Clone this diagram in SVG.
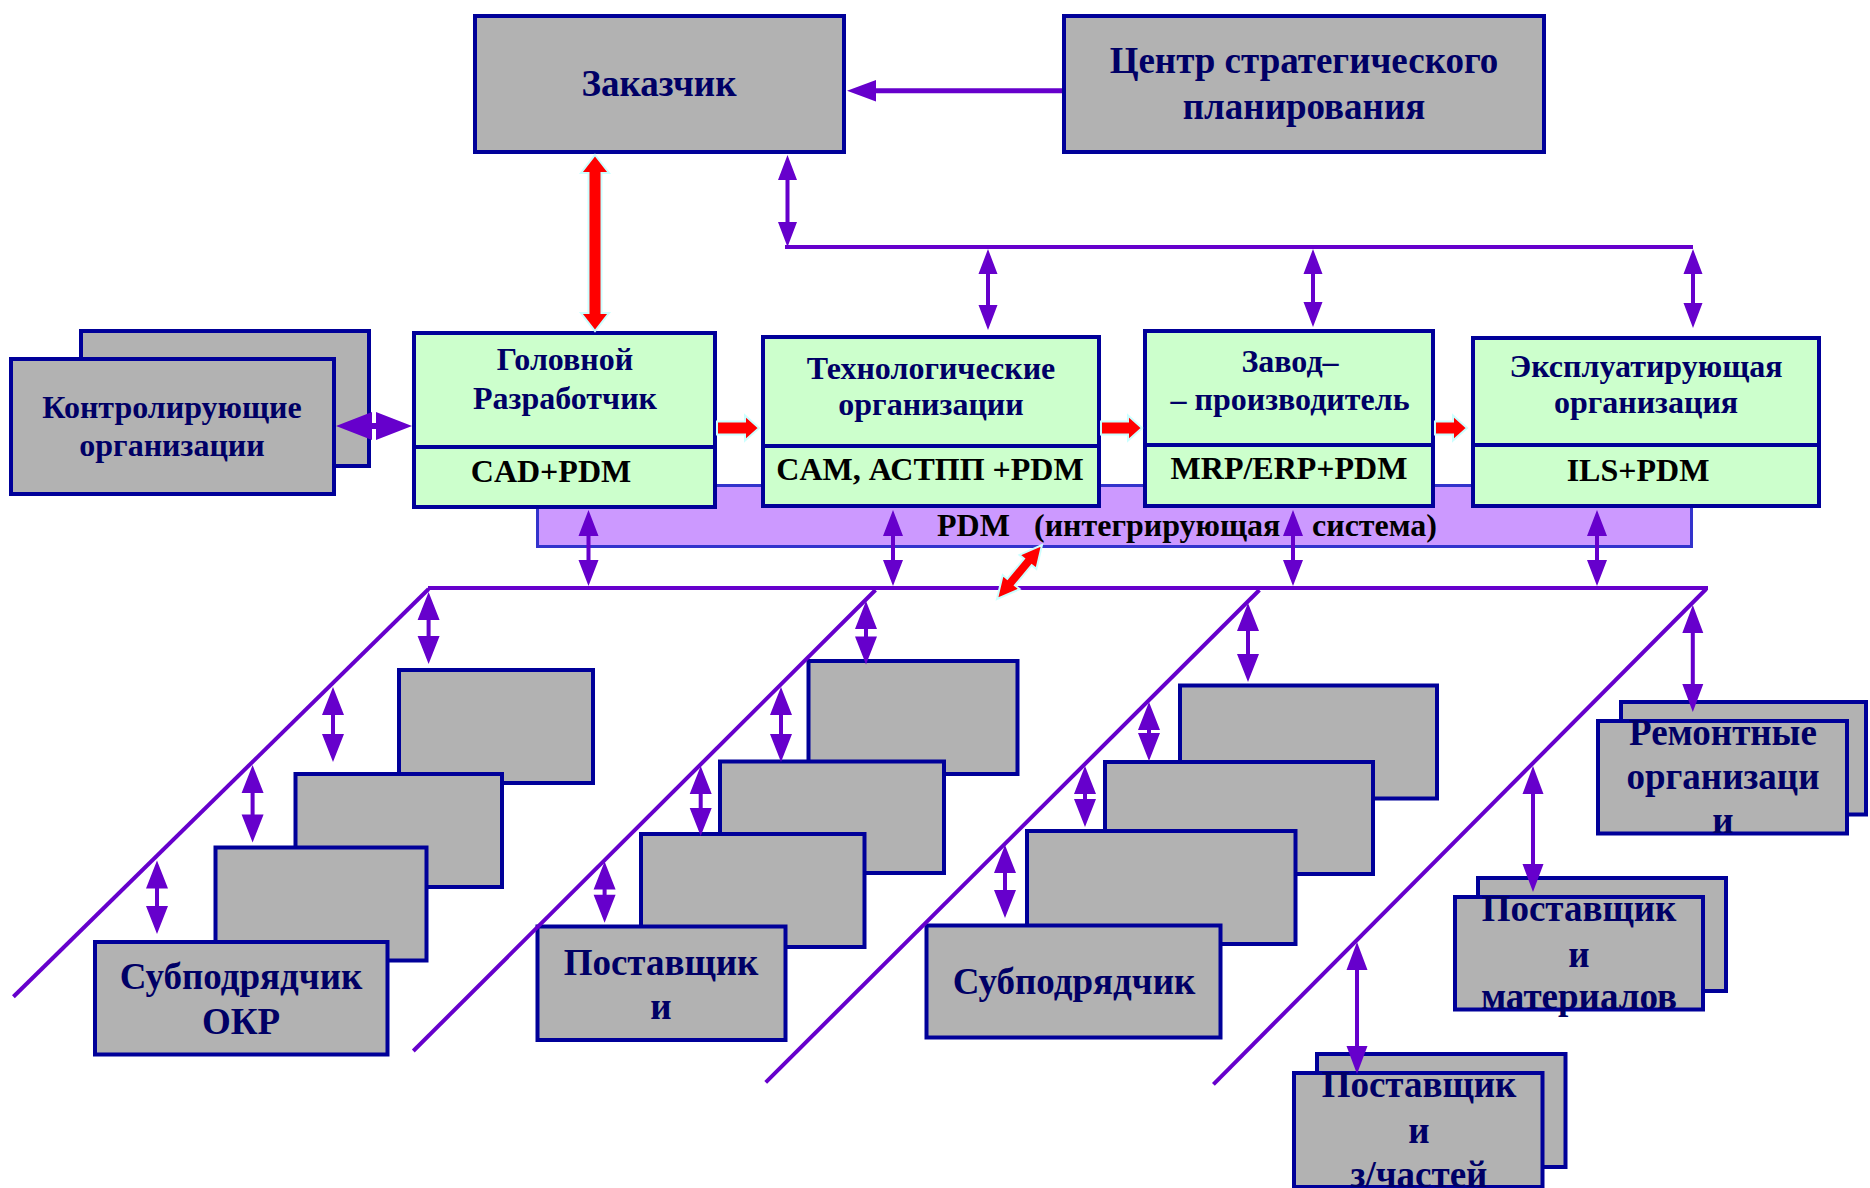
<svg xmlns="http://www.w3.org/2000/svg" width="1870" height="1188" viewBox="0 0 1870 1188">
  <style>
    .box { fill: #b2b2b2; stroke: #000099; stroke-width: 4; }
    .grn { fill: #ccffcc; stroke: #000099; stroke-width: 4; }
    .div { stroke: #000099; stroke-width: 4; }
    .band { fill: #cc99ff; stroke: #3333cc; stroke-width: 3; }
    text { font-family: "Liberation Serif", "Times New Roman", serif; font-weight: bold; }
    .t { fill: #000066; text-anchor: middle; }
    .big { font-size: 37px; }
    .mid { font-size: 32px; }
    .s { fill: #000000; text-anchor: middle; font-size: 32px; }
    .bt { fill: #000000; font-size: 32px; }
    .ln { stroke: #6600cc; stroke-width: 4; fill: none; }
    .pa { fill: #6600cc; }
    .ra { fill: #ff0000; stroke: #ccffff; stroke-width: 2; }
  </style>

  <!-- top level -->
  <g id="zakazchik">
    <rect class="box" x="475" y="16" width="369" height="136"/>
    <text class="t big" x="659" y="96">Заказчик</text>
  </g>
  <g id="centr">
    <rect class="box" x="1064" y="16" width="480" height="136"/>
    <text class="t big" x="1304" y="73">Центр стратегического</text>
    <text class="t big" x="1304" y="119">планирования</text>
  </g>

  <!-- controlling organisations (stacked) -->
  <g id="kontrol">
    <rect class="box" x="81" y="331" width="288" height="135"/>
    <rect class="box" x="11" y="359" width="323" height="135"/>
    <text class="t mid" x="172" y="418">Контролирующие</text>
    <text class="t mid" x="172" y="456">организации</text>
  </g>

  <!-- PDM integration band -->
  <g id="pdm">
    <rect class="band" x="537.5" y="485.5" width="1154" height="61"/>
    <text class="bt" x="937" y="536">PDM</text>
    <text class="bt" x="1034" y="536">(интегрирующая</text>
    <text class="bt" x="1312" y="536">система)</text>
  </g>

  <!-- main chain -->
  <g id="golovnoy">
    <rect class="grn" x="414" y="333" width="301" height="174"/>
    <line class="div" x1="414" y1="447" x2="715" y2="447"/>
    <text class="t mid" x="565" y="370">Головной</text>
    <text class="t mid" x="565" y="409">Разработчик</text>
    <text class="s" x="551" y="482">CAD+PDM</text>
  </g>
  <g id="tehnolog">
    <rect class="grn" x="763" y="337" width="336" height="169"/>
    <line class="div" x1="763" y1="446" x2="1099" y2="446"/>
    <text class="t mid" x="931" y="379">Технологические</text>
    <text class="t mid" x="931" y="415">организации</text>
    <text class="s" x="930" y="480">CAM, АСТПП +PDM</text>
  </g>
  <g id="zavod">
    <rect class="grn" x="1145" y="331" width="288" height="175"/>
    <line class="div" x1="1145" y1="445" x2="1433" y2="445"/>
    <text class="t mid" x="1290" y="372">Завод–</text>
    <text class="t mid" x="1290" y="410">– производитель</text>
    <text class="s" x="1289" y="479">MRP/ERP+PDM</text>
  </g>
  <g id="ekspl">
    <rect class="grn" x="1473" y="338" width="346" height="168"/>
    <line class="div" x1="1473" y1="445" x2="1819" y2="445"/>
    <text class="t mid" x="1646" y="377">Эксплуатирующая</text>
    <text class="t mid" x="1646" y="413">организация</text>
    <text class="s" x="1638" y="481">ILS+PDM</text>
  </g>

  <!-- lower tiers -->
  <g id="subpodr-okr">
    <rect class="box" x="399" y="670" width="194" height="113"/>
    <rect class="box" x="295.5" y="774" width="206.5" height="113"/>
    <rect class="box" x="215.5" y="847.5" width="211" height="113"/>
    <rect class="box" x="95" y="942" width="292.5" height="112.5"/>
    <text class="t big" x="241" y="989">Субподрядчик</text>
    <text class="t big" x="241" y="1034">ОКР</text>
  </g>
  <g id="postavshiki">
    <rect class="box" x="808.5" y="661" width="209" height="113"/>
    <rect class="box" x="720" y="761.5" width="224" height="111.5"/>
    <rect class="box" x="641" y="834" width="223.5" height="113"/>
    <rect class="box" x="537.5" y="926.5" width="248" height="113.5"/>
    <text class="t big" x="661" y="974.5">Поставщик</text>
    <text class="t big" x="661" y="1018.5">и</text>
  </g>
  <g id="subpodr">
    <rect class="box" x="1180" y="685.5" width="257" height="113"/>
    <rect class="box" x="1105" y="762" width="268" height="112"/>
    <rect class="box" x="1027" y="831" width="268.5" height="113"/>
    <rect class="box" x="926.5" y="925.5" width="294" height="112"/>
    <text class="t big" x="1074" y="994">Субподрядчик</text>
  </g>
  <g id="remont">
    <rect class="box" x="1621" y="702" width="245" height="112.5"/>
    <rect class="box" x="1598" y="721" width="249" height="112.5"/>
    <text class="t big" x="1723" y="745">Ремонтные</text>
    <text class="t big" x="1723" y="789">организаци</text>
    <text class="t big" x="1723" y="833">и</text>
  </g>
  <g id="postav-mater">
    <rect class="box" x="1478" y="878" width="248" height="113"/>
    <rect class="box" x="1455" y="897" width="248" height="112.5"/>
    <text class="t big" x="1579" y="921">Поставщик</text>
    <text class="t big" x="1579" y="967">и</text>
    <text class="t big" x="1579" y="1009">материалов</text>
  </g>
  <g id="postav-zch">
    <rect class="box" x="1317" y="1054" width="248.5" height="113"/>
    <rect class="box" x="1294" y="1073" width="248.5" height="114"/>
    <text class="t big" x="1419" y="1097">Поставщик</text>
    <text class="t big" x="1419" y="1143">и</text>
    <text class="t big" x="1419" y="1187">з/частей</text>
  </g>

  <!-- connectors -->
  <g id="connectors">
    <!-- buses and diagonals -->
    <line class="ln" x1="785" y1="247" x2="1693" y2="247"/>
    <line class="ln" x1="428" y1="588" x2="1708" y2="588"/>
    <line class="ln" x1="428.6" y1="589" x2="13.4" y2="996.7"/>
    <line class="ln" x1="875.5" y1="590" x2="413.3" y2="1051"/>
    <line class="ln" x1="1259.4" y1="590" x2="765.7" y2="1082.4"/>
    <line class="ln" x1="1706.2" y1="589" x2="1213.4" y2="1084.3"/>

    <!-- strategic centre to customer -->
    <line x1="1062" y1="90.7" x2="874" y2="90.7" stroke="#6600cc" stroke-width="5"/>
    <path class="pa" d="M847,90.7 L876,80 L876,101.4 Z"/>

    <!-- upper bus links -->
    <path class="pa" d="M787.5,155 l9.5,25 h-7.5 V222 h7.5 l-9.5,25 l-9.5,-25 h7.5 V180 h-7.5 z"/>
    <path class="pa" d="M988,249 l9.5,25 h-7.5 V305 h7.5 l-9.5,25 l-9.5,-25 h7.5 V274 h-7.5 z"/>
    <path class="pa" d="M1313,249 l9.5,25 h-7.5 V302 h7.5 l-9.5,25 l-9.5,-25 h7.5 V274 h-7.5 z"/>
    <path class="pa" d="M1693,249 l9.5,25 h-7.5 V303 h7.5 l-9.5,25 l-9.5,-25 h7.5 V274 h-7.5 z"/>

    <!-- customer to lead developer -->
    <path class="ra" d="M595,155 l14,18 h-7.5 V313 h7.5 l-14,18 l-14,-18 h7.5 V173 h-7.5 z"/>

    <!-- controlling organisations to lead developer -->
    <path class="pa" d="M336,426 l36,-14 v11 H376 v-11 l36,14 l-36,14 v-11 H372 v11 z"/>

    <!-- chain flow -->
    <path class="ra" d="M717,421.5 H745 v-6 l14,12.5 l-14,12.5 v-6 H717 z"/>
    <path class="ra" d="M1101,421.5 H1128 v-6 l14,12.5 l-14,12.5 v-6 H1101 z"/>
    <path class="ra" d="M1435,421.5 H1453 v-6 l14,12.5 l-14,12.5 v-6 H1435 z"/>

    <!-- PDM to lower bus -->
    <path class="pa" d="M588.5,510 l10,26 h-8 V560 h8 l-10,26 l-10,-26 h8 V536 h-8 z"/>
    <path class="pa" d="M893,510 l10,26 h-8 V560 h8 l-10,26 l-10,-26 h8 V536 h-8 z"/>
    <path class="pa" d="M1293,510 l10,26 h-8 V560 h8 l-10,26 l-10,-26 h8 V536 h-8 z"/>
    <path class="pa" d="M1597,510 l10,26 h-8 V560 h8 l-10,26 l-10,-26 h8 V536 h-8 z"/>
    <path class="ra" d="M1042,545 L1036.4,568.9 L1031.7,565.1 L1014.9,585.3 L1019.6,589.1 L997,599 L1002.7,575.1 L1007.3,578.9 L1024.1,558.7 L1019.5,554.9 Z"/>

    <!-- tier links, first group -->
    <path class="pa" d="M428.6,592 l11,28 h-9 V636 h9 l-11,28 l-11,-28 h9 V620 h-9 z"/>
    <path class="pa" d="M333,687 l11,28 h-9 V734 h9 l-11,28 l-11,-28 h9 V715 h-9 z"/>
    <path class="pa" d="M252.6,765 l11,28 h-9 V814.5 h9 l-11,28 l-11,-28 h9 V793 h-9 z"/>
    <path class="pa" d="M157,860.5 l11,28 h-9 V906 h9 l-11,28 l-11,-28 h9 V888.5 h-9 z"/>
    <!-- second group -->
    <path class="pa" d="M866,601 l11,28 h-9 V636.5 h9 l-11,28 l-11,-28 h9 V629 h-9 z"/>
    <path class="pa" d="M781,687 l11,28 h-9 V734 h9 l-11,28 l-11,-28 h9 V715 h-9 z"/>
    <path class="pa" d="M700.7,766 l11,28 h-9 V808 h9 l-11,28 l-11,-28 h9 V794 h-9 z"/>
    <path class="pa" d="M604.6,861.6 l11,28 h-9 V894.8 h9 l-11,28 l-11,-28 h9 V889.6 h-9 z"/>
    <!-- third group -->
    <path class="pa" d="M1248,603 l11,28 h-9 V654 h9 l-11,28 l-11,-28 h9 V631 h-9 z"/>
    <path class="pa" d="M1149,702 l11,28 h-9 V733 h9 l-11,28 l-11,-28 h9 V730 h-9 z"/>
    <path class="pa" d="M1085,766 l11,28 h-9 V799 h9 l-11,28 l-11,-28 h9 V794 h-9 z"/>
    <path class="pa" d="M1005,845 l11,28 h-9 V890 h9 l-11,28 l-11,-28 h9 V873 h-9 z"/>
    <!-- fourth group -->
    <path class="pa" d="M1692.8,605 l10.5,28 h-8.5 V684 h8.5 l-10.5,28 l-10.5,-28 h8.5 V633 h-8.5 z"/>
    <path class="pa" d="M1533,766 l10.5,28 h-8.5 V864 h8.5 l-10.5,28 l-10.5,-28 h8.5 V794 h-8.5 z"/>
    <path class="pa" d="M1357,942 l10.5,28 h-8.5 V1046 h8.5 l-10.5,28 l-10.5,-28 h8.5 V970 h-8.5 z"/>
  </g>
</svg>
